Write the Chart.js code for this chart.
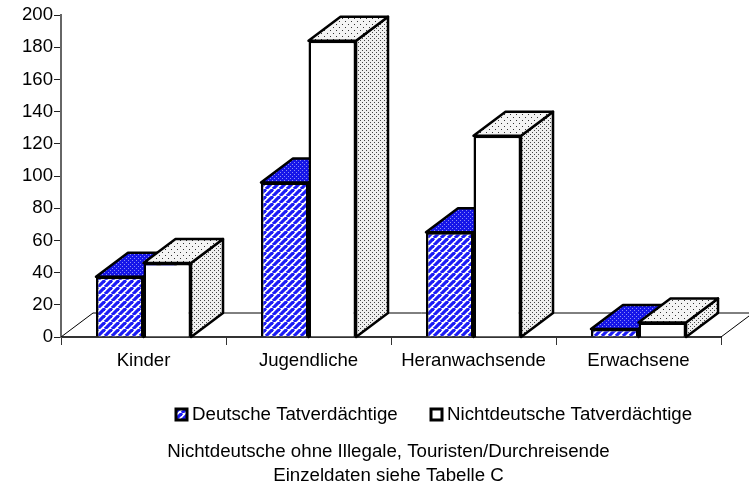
<!DOCTYPE html>
<html>
<head>
<meta charset="utf-8">
<title>Tatverdächtige</title>
<script src="https://cdn.jsdelivr.net/npm/chart.js@4"></script>
<style>
  html, body { margin: 0; padding: 0; background: #fff; }
  #wrap { width: 749px; height: 486px; }
</style>
</head>
<body>
<div id="wrap"><canvas id="chart" width="749" height="486"></canvas></div>
<script>
const categories = ['Kinder', 'Jugendliche', 'Heranwachsende', 'Erwachsene'];
const deutsche = [37.5, 96, 65, 5];
const nichtdeutsche = [46, 184, 125, 9];
const yTicks = [0, 20, 40, 60, 80, 100, 120, 140, 160, 180, 200];
const seriesNames = ['Deutsche Tatverdächtige', 'Nichtdeutsche Tatverdächtige'];
const notes = ['Nichtdeutsche ohne Illegale, Touristen/Durchreisende', 'Einzeldaten siehe Tabelle C'];

const FAMILY = '"Liberation Sans", Arial, sans-serif';
const DX = 32, DY = 24; // 3d depth of the bars
const LINE = 2.5;

// small tile patterns for the old-school office chart fills
function tile(size, paint) {
  const c = document.createElement('canvas');
  c.width = c.height = size;
  paint(c.getContext('2d'));
  return document.createElement('canvas').getContext('2d').createPattern(c, 'repeat');
}
function dots(bg, fg, step) {
  return tile(step, g => {
    g.fillStyle = bg; g.fillRect(0, 0, step, step);
    g.fillStyle = fg;
    g.fillRect(0, 0, 1, 1);
    g.fillRect(step / 2, step / 2, 1, 1);
  });
}
const stripes = tile(7, g => {
  g.fillStyle = '#fff'; g.fillRect(0, 0, 7, 7);
  g.strokeStyle = '#1c1cf5'; g.lineWidth = 3.2;
  for (let i = -7; i <= 14; i += 7) {
    g.beginPath(); g.moveTo(i, 7); g.lineTo(i + 7, 0); g.stroke();
  }
});
const blueTop = dots('#1616e8', '#8c8cf5', 4);
const whiteTop = dots('#f4f4f4', '#333', 6);
const whiteSide = dots('#efefef', '#444', 4);

function face(ctx, pts, fill) {
  ctx.beginPath();
  pts.forEach((p, i) => i ? ctx.lineTo(p[0], p[1]) : ctx.moveTo(p[0], p[1]));
  ctx.closePath();
  ctx.fillStyle = fill;
  ctx.fill();
  ctx.stroke();
}

const depthFaces = {
  id: 'depthFaces',
  beforeDatasetsDraw(chart) {
    const { ctx, scales: { x, y } } = chart;
    const y0 = y.getPixelForValue(0);
    ctx.save();
    // floor
    ctx.strokeStyle = '#000';
    ctx.lineWidth = 1;
    ctx.beginPath();
    ctx.moveTo(x.left, y0);
    ctx.lineTo(x.left + DX, y0 - DY);
    ctx.lineTo(x.right + DX, y0 - DY);
    ctx.lineTo(x.right, y0);
    ctx.stroke();
    // tops and sides, fronts are drawn by the bar elements afterwards
    ctx.lineWidth = LINE;
    ctx.lineJoin = 'round';
    [[blueTop, blueTop], [whiteTop, whiteSide]].forEach((fills, ds) => {
      chart.getDatasetMeta(ds).data.forEach(bar => {
        const l = bar.x - bar.width / 2, r = bar.x + bar.width / 2, t = bar.y;
        face(ctx, [[r, y0], [r + DX, y0 - DY], [r + DX, t - DY], [r, t]], fills[1]);
        face(ctx, [[l, t], [l + DX, t - DY], [r + DX, t - DY], [r, t]], fills[0]);
      });
    });
    ctx.restore();
  }
};

const sideLegend = {
  id: 'sideLegend',
  afterDraw(chart) {
    const { ctx } = chart;
    ctx.save();
    ctx.textBaseline = 'middle';
    ctx.textAlign = 'left';
    ctx.strokeStyle = '#000';
    ctx.lineWidth = 3;
    ctx.fillStyle = stripes;
    ctx.fillRect(176, 409, 11, 11);
    ctx.strokeRect(176, 409, 11, 11);
    ctx.fillStyle = '#fff';
    ctx.fillRect(431, 409, 11, 11);
    ctx.strokeRect(431, 409, 11, 11);
    ctx.fillStyle = '#000';
    ctx.font = '18.7px ' + FAMILY;
    ctx.fillText(seriesNames[0], 192, 415);
    ctx.fillText(seriesNames[1], 447, 415);
    ctx.textAlign = 'center';
    ctx.fillText(notes[0], 388.5, 452);
    ctx.fillText(notes[1], 388.5, 476);
    ctx.restore();
  }
};

new Chart(document.getElementById('chart'), {
  type: 'bar',
  data: {
    labels: categories,
    datasets: [
      { label: seriesNames[0], data: deutsche, backgroundColor: stripes, borderColor: '#000', borderWidth: LINE },
      { label: seriesNames[1], data: nichtdeutsche, backgroundColor: '#fff', borderColor: '#000', borderWidth: LINE }
    ]
  },
  options: {
    responsive: false,
    animation: false,
    events: [],
    layout: { padding: { top: 15, right: 28, left: 0, bottom: 0 } },
    plugins: { legend: { display: false }, tooltip: { enabled: false } },
    datasets: { bar: { categoryPercentage: 0.576, barPercentage: 1 } },
    scales: {
      x: {
        afterFit: s => { s.height = 149; },
        border: { color: '#333', width: 2 },
        grid: { drawOnChartArea: false, color: '#333', tickLength: 8, offset: true },
        ticks: { color: '#000', font: { family: FAMILY, size: 18.6 }, padding: 5, maxRotation: 0, autoSkip: false }
      },
      y: {
        min: 0,
        max: 200,
        afterFit: s => { s.width = 61; },
        afterBuildTicks: s => { s.ticks = yTicks.map(v => ({ value: v })); },
        border: { color: '#666', width: 2 },
        grid: { drawOnChartArea: false, color: '#222', tickLength: 7 },
        ticks: { color: '#000', font: { family: FAMILY, size: 18.6 }, padding: 1 }
      }
    }
  },
  plugins: [depthFaces, sideLegend]
});
</script>
</body>
</html>
